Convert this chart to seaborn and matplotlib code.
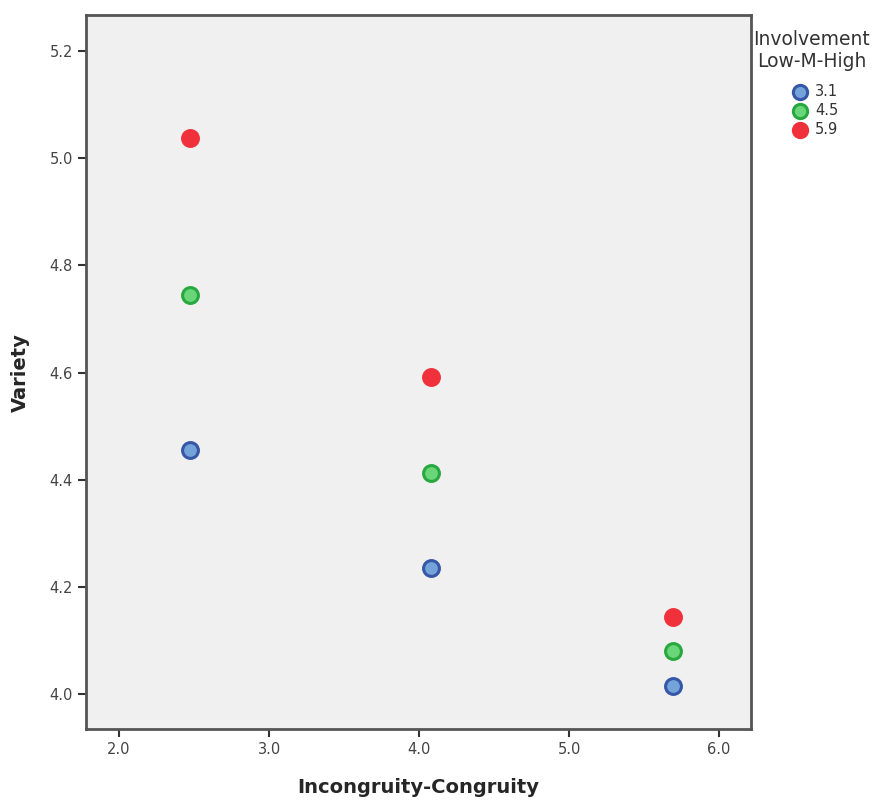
import matplotlib
matplotlib.use("Agg")
import matplotlib.pyplot as plt
import seaborn as sns
import pandas as pd

congruity = [2.47, 4.08, 5.69]
involvement_levels = ["3.1", "4.5", "5.9"]
variety_low = [4.455, 4.235, 4.015]
variety_mid = [4.745, 4.413, 4.080]
variety_high = [5.037, 4.591, 4.143]

rows = []
for lvl, vals in zip(involvement_levels, [variety_low, variety_mid, variety_high]):
    for x, y in zip(congruity, vals):
        rows.append({"Incongruity-Congruity": x, "Variety": y, "Involvement": lvl})
df = pd.DataFrame(rows)

face = {"3.1": "#74a3d9", "4.5": "#6ad67a", "5.9": "#f0303a"}
edge = {"3.1": "#3656a8", "4.5": "#28a83e", "5.9": "#f0303a"}

sns.set_style("white")
fig = plt.figure(figsize=(8.78, 8.01), dpi=100)
ax = fig.add_axes([0.098, 0.09, 0.757, 0.891])
ax.set_facecolor("#f0f0f0")

for lvl in involvement_levels:
    sub = df[df["Involvement"] == lvl]
    sns.scatterplot(data=sub, x="Incongruity-Congruity", y="Variety", ax=ax,
                    color=face[lvl], edgecolor=edge[lvl], linewidth=2.2,
                    s=130, label=lvl, zorder=3)

ax.set_xlim(1.78, 6.21)
ax.set_ylim(3.935, 5.267)
ax.set_xticks([2.0, 3.0, 4.0, 5.0, 6.0])
ax.set_yticks([4.0, 4.2, 4.4, 4.6, 4.8, 5.0, 5.2])
ax.set_xticklabels(["2.0", "3.0", "4.0", "5.0", "6.0"])
ax.set_yticklabels(["4.0", "4.2", "4.4", "4.6", "4.8", "5.0", "5.2"])
ax.tick_params(axis="both", direction="out", length=6, width=1.5, color="#333333",
               labelsize=10.5, labelcolor="#444444", left=True, bottom=True)
for sp in ax.spines.values():
    sp.set_color("#555555")
    sp.set_linewidth(2)

ax.set_xlabel("Incongruity-Congruity", fontsize=14, fontweight="bold", labelpad=15)
ax.set_ylabel("Variety", fontsize=14, fontweight="bold", labelpad=14)

leg = ax.legend(title="Involvement\nLow-M-High", loc="upper center",
                bbox_to_anchor=(812 / 878, 781 / 801), bbox_transform=fig.transFigure,
                frameon=False, fontsize=10.5, title_fontsize=13.5,
                handletextpad=0.0, labelspacing=0.28, markerscale=0.9,
                alignment="center", borderpad=0.2)
leg._legend_box.sep = 9
leg.get_title().set_color("#333333")
leg.get_title().set_multialignment("center")
for t in leg.get_texts():
    t.set_color("#333333")

fig.savefig("out.png", dpi=100)
